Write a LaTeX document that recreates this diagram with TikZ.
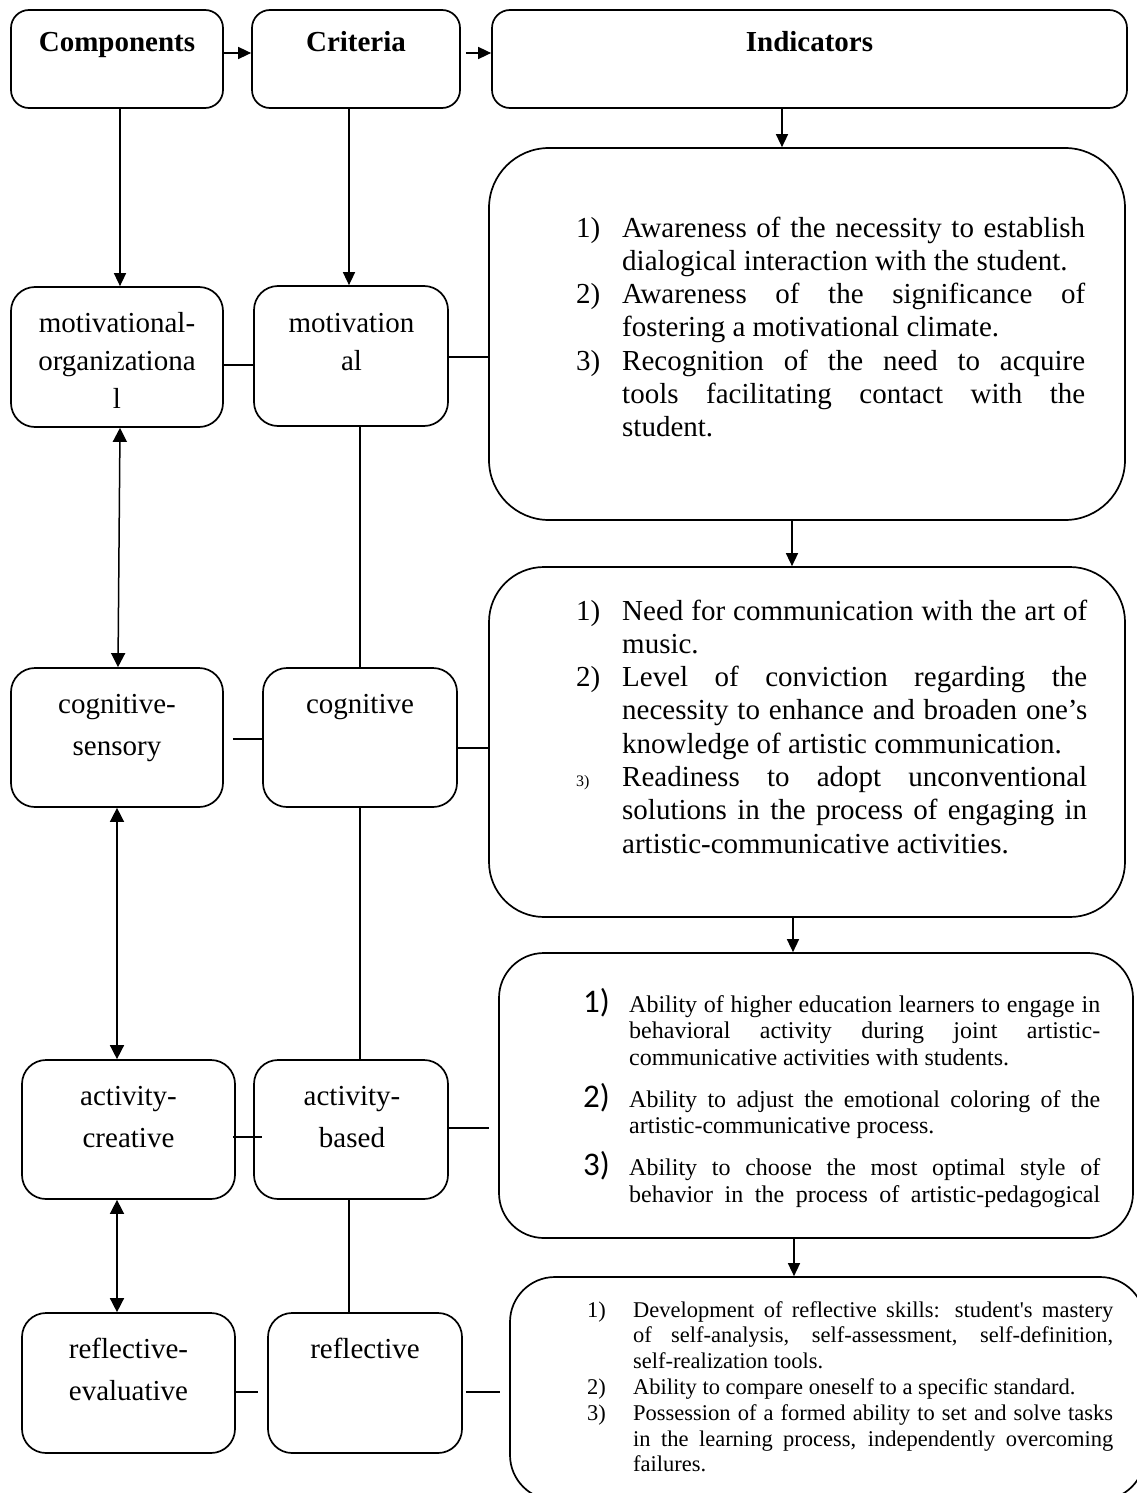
\documentclass[tikz,border=0pt]{standalone}
\usepackage{fontspec}
\setmainfont{Liberation Serif}
\newfontfamily\calfont{Carlito}
\usetikzlibrary{arrows.meta,calc}
\newdimen\numw
\newdimen\txtw
\newcommand\mJ[1]{\hbox to\txtw{#1}}
\newcommand\mL[1]{\hbox to\txtw{#1\hfil}}
\newcommand\mI[2]{\hbox{\hbox to\numw{\smash{#1}\hfil}#2}}
\newcommand\mC[1]{\hbox{\hskip\numw#1}}
\newcommand\cstack[1]{\vtop{\halign{\hfil##\hfil\cr#1\crcr}}}
\tikzset{
  bx/.style={draw, line width=1.7pt, rounded corners=#1, inner sep=0pt},
  bx/.default=24pt,
  ln/.style={line width=1.5pt},
  ar/.style={ln, -{Triangle[length=13pt,width=12pt]}},
  dar/.style={ln, {Triangle[length=14pt,width=14pt]}-{Triangle[length=14pt,width=14pt]}},
  hd/.style={anchor=base, inner sep=0pt, font=\fontsize{29}{33}\selectfont\bfseries},
  lt/.style={anchor=base, inner sep=0pt, font=\fontsize{29}{#1}\selectfont},
  lt/.default=42,
  it/.style={anchor=base west, inner sep=0pt}
}
\begin{document}
\begin{tikzpicture}[x=1pt,y=-1pt]
\useasboundingbox (0,0) rectangle (1137,1493);
\fill[white] (0,0) rectangle (1137,1493);
\clip (0,0) rectangle (1137,1493);

% header boxes
\node[bx=18pt, minimum width=212pt, minimum height=98pt] (comp) at (117,59) {};
\node[bx=18pt, minimum width=208pt, minimum height=98pt] (crit) at (356,59) {};
\node[bx=18pt, minimum width=635pt, minimum height=98pt] (indh) at (809.5,59) {};
\node[hd] (compt) at (117,52) {Components};
\node[hd] (critt) at (356,52) {Criteria};
\node[hd] (indht) at (809.5,52) {Indicators};

% left column boxes
\node[bx, minimum width=212pt, minimum height=140pt] (mo) at (117,357) {};
\node[bx, minimum width=194pt, minimum height=140pt] (mc) at (351,356) {};
\node[bx, minimum width=212pt, minimum height=139pt] (cs) at (117,737.5) {};
\node[bx, minimum width=194pt, minimum height=139pt] (cc) at (360,737.5) {};
\node[bx, minimum width=213pt, minimum height=139pt] (ac) at (128.5,1129.5) {};
\node[bx, minimum width=194pt, minimum height=139pt] (ab) at (351,1129.5) {};
\node[bx, minimum width=213pt, minimum height=140pt] (re) at (128.5,1383) {};
\node[bx, minimum width=194pt, minimum height=140pt] (rc) at (365,1383) {};

\node[lt=38] (mot) at (117,332) {\cstack{motivational-\cr organizationa\cr l}};
\node[lt=38] (mct) at (351.5,332) {\cstack{motivation\cr al}};
\node[lt] (cst) at (117,713) {\cstack{cognitive-\cr sensory}};
\node[lt] (cct) at (360,713) {cognitive};
\node[lt] (act) at (128.5,1105) {\cstack{activity-\cr creative}};
\node[lt] (abt) at (352,1105) {\cstack{activity-\cr based}};
\node[lt] (ret) at (128.5,1358) {\cstack{reflective-\cr evaluative}};
\node[lt] (rct) at (365,1358) {reflective};

% indicator boxes
\node[bx=60pt, minimum width=636pt, minimum height=372pt] (i1) at (807,334) {};
\node[bx=55pt, minimum width=636pt, minimum height=350pt] (i2) at (807,742) {};
\node[bx=45pt, minimum width=634pt, minimum height=285pt] (i3) at (816,1095.5) {};
\node[bx=45pt, minimum width=635pt, minimum height=223pt] (i4) at (827.5,1388.5) {};

% indicator texts
\node[it, font=\fontsize{29}{33.3}\selectfont] (i1t) at (576,237) {\numw=46pt\txtw=463pt\vtop{%
\mI{1)}{\mJ{Awareness of the necessity to establish}}
\mC{\mL{dialogical interaction with the student.}}
\mI{2)}{\mJ{Awareness of the significance of}}
\mC{\mL{fostering a motivational climate.}}
\mI{3)}{\mJ{Recognition of the need to acquire}}
\mC{\mJ{tools facilitating contact with the}}
\mC{\mL{student.}}
}};

\node[it, font=\fontsize{29}{33.3}\selectfont] (i2t) at (576,620) {\numw=46pt\txtw=465pt\vtop{%
\mI{1)}{\mJ{Need for communication with the art of}}
\mC{\mL{music.}}
\mI{2)}{\mJ{Level of conviction regarding the}}
\mC{\mJ{necessity to enhance and broaden one’s}}
\mC{\mL{knowledge of artistic communication.}}
\mI{{\fontsize{16}{16}\selectfont 3)}}{\mJ{Readiness to adopt unconventional}}
\mC{\mJ{solutions in the process of engaging in}}
\mC{\mL{artistic-communicative activities.}}
}};

\node[it, font=\fontsize{24}{26.7}\selectfont] (i3t) at (583,1012) {\numw=46pt\txtw=471pt\vtop{%
\mI{{\calfont\fontsize{33}{33}\selectfont 1)}}{\mJ{Ability of higher education learners to engage in}}
\mC{\mJ{behavioral activity during joint artistic-}}
\mC{\mL{communicative activities with students.}}
\vskip15pt
\mI{{\calfont\fontsize{33}{33}\selectfont 2)}}{\mJ{Ability to adjust the emotional coloring of the}}
\mC{\mL{artistic-communicative process.}}
\vskip15pt
\mI{{\calfont\fontsize{33}{33}\selectfont 3)}}{\mJ{Ability to choose the most optimal style of}}
\mC{\mJ{behavior in the process of artistic-pedagogical}}
}};

\node[it, font=\fontsize{22.5}{25.8}\selectfont] (i4t) at (587,1317) {\numw=46pt\txtw=480pt\vtop{%
\mI{1)}{\mJ{Development of reflective skills: student\textquotesingle s mastery}}
\mC{\mJ{of self-analysis, self-assessment, self-definition,}}
\mC{\mL{self-realization tools.}}
\mI{2)}{\mL{Ability to compare oneself to a specific standard.}}
\mI{3)}{\mJ{Possession of a formed ability to set and solve tasks}}
\mC{\mJ{in the learning process, independently overcoming}}
\mC{\mL{failures.}}
}};

% header arrows
\draw[ar] ([yshift=6pt]comp.east) -- ([yshift=6pt]crit.west);
\draw[ar] ([xshift=5pt,yshift=6pt]crit.east) -- ([yshift=6pt]indh.west);
\draw[ar] ([xshift=3pt]comp.south) -- ([xshift=3pt]mo.north);
\coordinate (c1) at ([xshift=-7pt]crit.south);
\draw[ar] (c1) -- (c1 |- mc.north);
\coordinate (a1) at ([xshift=-27.5pt]indh.south);
\draw[ar] (a1) -- (a1 |- i1.north);
\coordinate (a2) at ([xshift=-15pt]i1.south);
\draw[ar] (a2) -- (a2 |- i2.north);
\coordinate (a3) at ([xshift=-14pt]i2.south);
\draw[ar] (a3) -- (a3 |- i3.north);
\coordinate (a4) at ([xshift=-22pt]i3.south);
\draw[ar] (a4) -- (a4 |- i4.north);

% component double arrows
\draw[dar] ([xshift=3pt]mo.south) -- ([xshift=1pt]cs.north);
\draw[dar] (cs.south) -- (cs.south |- ac.north);
\coordinate (d3) at ([xshift=-11.5pt]ac.south);
\draw[dar] (d3) -- (d3 |- re.north);

% criteria vertical lines
\coordinate (v1) at ([xshift=9pt]mc.south);
\draw[ln] (v1) -- (v1 |- cc.north);
\draw[ln] (cc.south) -- (cc.south |- ab.north);
\coordinate (v3) at ([xshift=-2pt]ab.south);
\draw[ln] (v3) -- (v3 |- rc.north);

% horizontal links
\coordinate (h1) at ([yshift=-8pt]mo.east);
\draw[ln] (h1) -- (h1 -| mc.west);
\coordinate (h2) at ([yshift=-1pt]mc.east);
\draw[ln] (h2) -- (h2 -| i1.west);
\coordinate (h3) at ([xshift=9pt,yshift=-1.5pt]cs.east);
\coordinate (h3b) at ([xshift=2pt]cc.west);
\draw[ln] (h3) -- (h3 -| h3b);
\coordinate (h4) at ([yshift=-10.5pt]cc.east);
\draw[ln] (h4) -- (h4 -| i2.west);
\coordinate (h5) at ([xshift=-3pt,yshift=-7.5pt]ac.east);
\coordinate (h5b) at ([xshift=9pt]ab.west);
\draw[ln] (h5) -- (h5 -| h5b);
\coordinate (h6) at ([yshift=1.5pt]ab.east);
\coordinate (h6b) at ([xshift=-9pt]i3.west);
\draw[ln] (h6) -- (h6 -| h6b);
\coordinate (h7) at ([yshift=-9pt]re.east);
\coordinate (h7b) at ([xshift=-9pt]rc.west);
\draw[ln] (h7) -- (h7 -| h7b);
\coordinate (h8) at ([xshift=3pt,yshift=-9pt]rc.east);
\coordinate (h8b) at ([xshift=-9pt]i4.west);
\draw[ln] (h8) -- (h8 -| h8b);
\end{tikzpicture}
\end{document}
